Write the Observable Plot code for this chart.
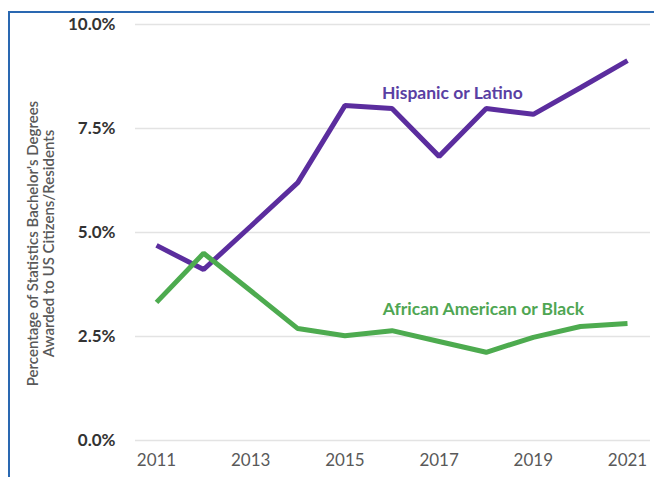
<!DOCTYPE html>
<html>
<head>
<meta charset="utf-8">
<script src="https://cdn.jsdelivr.net/npm/d3@7"></script>
<script src="https://cdn.jsdelivr.net/npm/@observablehq/plot@0.6"></script>
<style>
  html, body { margin: 0; padding: 0; background: #fff; }
  #wrap { position: relative; width: 654px; height: 477px; overflow: hidden; }
  #frame { position: absolute; left: 8px; top: 11px; width: 700px; height: 500px;
           border-top: 2px solid #2a68b1; border-left: 2px solid #2a68b1; box-sizing: border-box; }
  #chart { position: absolute; left: 0; top: 0; }
</style>
</head>
<body>
<div id="wrap"><div id="frame"></div><div id="chart"></div></div>
<script>
const years = [2011, 2012, 2013, 2014, 2015, 2016, 2017, 2018, 2019, 2020, 2021];
const hispanic = [4.69, 4.11, 5.15, 6.2, 8.05, 7.98, 6.83, 7.98, 7.84, 8.48, 9.13];
const black = [3.32, 4.5, 3.6, 2.69, 2.52, 2.64, 2.38, 2.12, 2.48, 2.74, 2.81];
const seriesNames = ["Hispanic or Latino", "African American or Black"];
const seriesColors = ["#5b2d9e", "#4dab4f"];
const labelColors = ["#5a3fa3", "#4fa653"];
const yTicks = [0, 2.5, 5, 7.5, 10];
const xTicks = [2011, 2013, 2015, 2017, 2019, 2021];
const yLabel = "Percentage of Statistics Bachelor's Degrees\nAwarded to US Citizens/Residents";
const seriesLabels = [
  {name: "Hispanic or Latino", year: 2017.28, value: 8.34},
  {name: "African American or Black", year: 2017.94, value: 3.15}
];

const rows = [];
years.forEach((yr, i) => {
  rows.push({year: yr, value: hispanic[i], series: seriesNames[0]});
  rows.push({year: yr, value: black[i], series: seriesNames[1]});
});

const font = "Lato, 'Open Sans', sans-serif";

const chart = Plot.plot({
  width: 654,
  height: 477,
  marginTop: 24,
  marginBottom: 37,
  marginLeft: 135,
  marginRight: 4,
  style: {fontFamily: font, background: "transparent"},
  x: {domain: [2011, 2021], range: [156, 627], ticks: xTicks, tickFormat: d => String(d), label: null},
  y: {domain: [0, 10], ticks: yTicks, label: null},
  color: {domain: seriesNames, range: seriesColors},
  marks: [
    Plot.gridY(yTicks, {stroke: "#e3e3e3", strokeOpacity: 1, strokeWidth: 1.5}),
    Plot.axisY(yTicks, {tickSize: 0, tickPadding: 0, dx: -20, tickFormat: d => d.toFixed(1) + "%", fontSize: 17, fontWeight: "bold", fill: "#333", textAnchor: "end"}),
    Plot.axisX(xTicks, {tickSize: 0, tickPadding: 0, dy: 13, tickFormat: d => String(d), fontSize: 17, fill: "#595959"}),
    Plot.lineY(rows, {x: "year", y: "value", z: "series", stroke: "series", strokeWidth: 5, strokeLinejoin: "miter", strokeLinecap: "butt"}),
    Plot.text(seriesLabels, {x: "year", y: "value", text: "name", fill: d => labelColors[seriesNames.indexOf(d.name)], fontSize: 17.5, fontWeight: "bold"}),
    Plot.text([yLabel], {frameAnchor: "left", rotate: -90, dx: -95, dy: 11, fontSize: 15, fontWeight: 600, fill: "#595959", lineHeight: 1.1, textAnchor: "middle", lineAnchor: "middle"})
  ]
});
document.getElementById("chart").appendChild(chart);
</script>
</body>
</html>
